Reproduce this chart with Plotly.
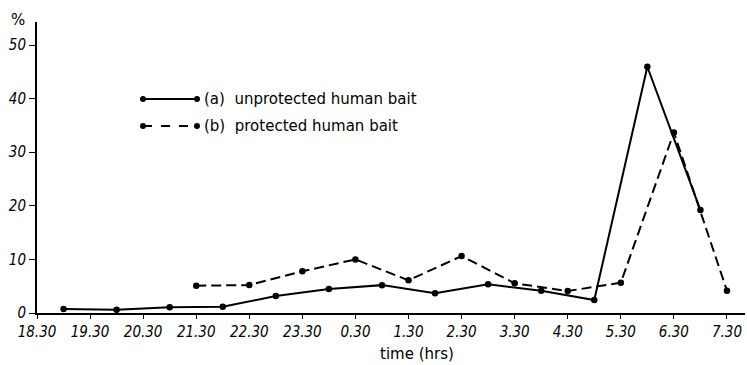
import plotly.graph_objects as go

# ---- data ----
tick_labels = ["18.30", "19.30", "20.30", "21.30", "22.30", "23.30", "0.30",
               "1.30", "2.30", "3.30", "4.30", "5.30", "6.30", "7.30"]
y_ticks = [0, 10, 20, 30, 40, 50]

unprot_times = ["19.00", "20.00", "21.00", "22.00", "23.00", "0.00", "1.00",
                "2.00", "3.00", "4.00", "5.00", "6.00", "7.00"]
unprot_pct = [0.75, 0.6, 1.06, 1.18, 3.17, 4.48, 5.2, 3.68, 5.35, 4.16, 2.43, 45.95, 19.2]

prot_times = ["21.30", "22.30", "23.30", "0.30", "1.30", "2.30", "3.30",
              "4.30", "5.30", "6.30", "7.30"]
prot_pct = [5.09, 5.22, 7.78, 10.0, 6.1, 10.63, 5.54, 4.1, 5.65, 33.7, 4.16]

name_a = "(a)\u00a0\u00a0unprotected human bait"
name_b = "(b)\u00a0\u00a0protected human bait"


def hours_after_start(t):
    """hours elapsed since 18.30 (overnight clock)"""
    h, m = t.split(".")
    v = int(h) + int(m) / 60.0
    if v < 12:
        v += 24
    return v - 18.5


tick_vals = [hours_after_start(t) for t in tick_labels]

NUM_FONT = "DejaVu Sans Condensed, sans-serif"
TXT_FONT = "DejaVu Sans, sans-serif"

fig = go.Figure()
fig.add_trace(go.Scatter(
    x=[hours_after_start(t) for t in unprot_times], y=unprot_pct,
    mode="lines+markers", name=name_a,
    line=dict(color="black", width=2),
    marker=dict(color="black", size=6.5),
))
fig.add_trace(go.Scatter(
    x=[hours_after_start(t) for t in prot_times], y=prot_pct,
    mode="lines+markers", name=name_b,
    line=dict(color="black", width=2, dash="10px,5px"),
    marker=dict(color="black", size=6.5),
))

fig.update_layout(
    width=747, height=365,
    margin=dict(l=37, r=2, t=22, b=52),
    paper_bgcolor="white", plot_bgcolor="white",
    showlegend=False,
    font=dict(family=TXT_FONT, color="black"),
)

fig.update_xaxes(
    range=[0, 13.34], tickvals=tick_vals, ticktext=tick_labels,
    showgrid=False, zeroline=False,
    showline=True, linecolor="black", linewidth=2,
    ticks="outside", ticklen=4, tickwidth=1, tickcolor="black",
    tickfont=dict(family=NUM_FONT, size=15, style="italic", color="black"),
)
fig.update_yaxes(
    range=[0, 54.3], tickvals=y_ticks, ticktext=[str(v) for v in y_ticks],
    showgrid=False, zeroline=False,
    showline=True, linecolor="black", linewidth=2,
    ticks="outside", ticklen=6, tickwidth=1, tickcolor="black",
    tickfont=dict(family=NUM_FONT, size=15, style="italic", color="black"),
)

# % unit label
fig.add_annotation(text="%", xref="paper", yref="paper", x=-0.0275, y=1.007,
                   xanchor="center", yanchor="middle", showarrow=False,
                   font=dict(family=TXT_FONT, size=15, color="black"))
# x axis title
fig.add_annotation(text="time (hrs)", xref="paper", yref="paper", x=0.537, y=-0.141,
                   xanchor="center", yanchor="middle", showarrow=False,
                   font=dict(family=TXT_FONT, size=15, color="black"))

# hand-drawn style legend (line with dots at both ends + label)
legend_rows = [(0.7354, "solid", name_a), (0.6426, "dash", name_b)]
lx0, lx1 = 0.1497, 0.226
for ly, dash, label in legend_rows:
    fig.add_shape(type="line", xref="paper", yref="paper", x0=lx0, x1=lx1, y0=ly, y1=ly,
                  line=dict(color="black", width=2, dash=dash))
    for lx in (lx0, lx1):
        fig.add_shape(type="circle", xref="paper", yref="paper",
                      x0=lx - 0.0042, x1=lx + 0.0042, y0=ly - 0.0103, y1=ly + 0.0103,
                      fillcolor="black", line=dict(color="black", width=0))
    fig.add_annotation(text=label, xref="paper", yref="paper", x=0.2335, y=ly,
                       xanchor="left", yanchor="middle", showarrow=False,
                       font=dict(family=TXT_FONT, size=15, color="black"))

fig.write_html("out.html")
